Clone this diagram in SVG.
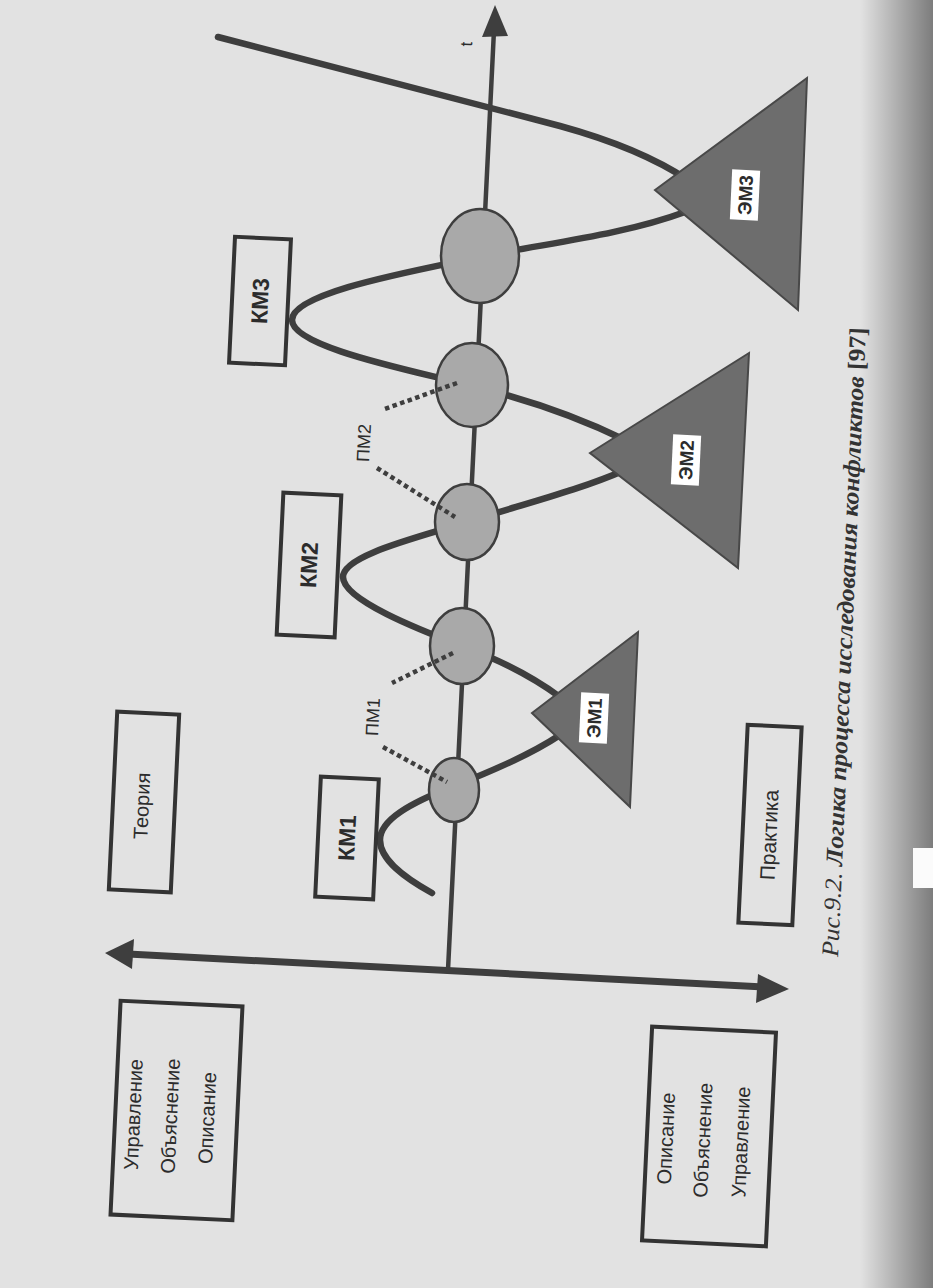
<svg xmlns="http://www.w3.org/2000/svg" width="933" height="1288" viewBox="0 0 933 1288">
<defs>
<linearGradient id="edge" x1="0" y1="0" x2="1" y2="0">
<stop offset="0" stop-color="#000" stop-opacity="0"/>
<stop offset="1" stop-color="#000" stop-opacity="0.45"/>
</linearGradient>
<style>
.ln{stroke:#3e3e3e;fill:none;stroke-linecap:round;stroke-linejoin:round}
.wave{stroke-width:6.5}
.ax{stroke-width:4.5}
.hax{stroke-width:7}
.dot{stroke:#3e3e3e;stroke-width:4.5;fill:none;stroke-dasharray:4.5 3.5}
.head{fill:#3e3e3e}
.circ{fill:#a9a9a9;stroke:#3e3e3e;stroke-width:2.5}
.tri{fill:#6d6d6d;stroke:#484848;stroke-width:2}
.box{fill:none;stroke:#333;stroke-width:4}
.lbl{fill:#fff}
.t{font-family:"Liberation Sans",Arial,sans-serif;fill:#2c2c2c;text-anchor:middle}
.b{font-weight:bold}
.cap{font-family:"Liberation Serif","Times New Roman",serif;font-style:italic;font-weight:bold;fill:#333;font-size:24px}
</style>
</defs>
<rect width="933" height="1288" fill="#e2e2e2"/>
<rect x="860" y="0" width="73" height="1288" fill="url(#edge)"/>
<rect x="913" y="848" width="20" height="40" fill="#fbfbfb"/>

<g id="connectors">
<path class="ln ax" d="M448,970 L494,30"/>
<polygon class="head" points="495,5 508,36 482,37"/>
<path class="ln wave" d="M218,37 L560,126 Q640,148 688,180 Q714,196 685,212 C620,236 540,244 480,257 C420,270 292,292 292,320 C292,348 420,372 472,386 C530,400 580,418 625,440 Q652,455 625,470 C580,490 520,505 467,522 C420,537 343,555 343,577 C343,600 420,630 462,646 C500,660 530,675 560,697 Q582,715 560,735 C530,755 490,772 454,786 C410,803 380,820 380,840 C380,860 405,878 432,893"/>
<path class="ln hax" d="M128,954 L764,987"/>
<polygon class="head" points="105,953 134,939 132,969"/>
<polygon class="head" points="789,989 758,974 756,1003"/>
</g>

<g id="circle5"><ellipse class="circ" cx="480" cy="256" rx="39" ry="47"/></g>
<g id="circle4"><ellipse class="circ" cx="472" cy="385" rx="36" ry="42"/></g>
<g id="circle3"><ellipse class="circ" cx="467" cy="522" rx="32" ry="38"/></g>
<g id="circle2"><ellipse class="circ" cx="462" cy="646" rx="32" ry="38"/></g>
<g id="circle1"><ellipse class="circ" cx="454" cy="790" rx="25" ry="32"/></g>

<g id="pm-connectors">
<path class="dot" d="M457,383 L382,410"/>
<path class="dot" d="M377,468 L455,517"/>
<path class="dot" d="M453,653 L392,683"/>
<path class="dot" d="M383,747 L447,782"/>
</g>

<g id="pm2"><text class="t" font-size="18" transform="translate(364,443) rotate(-87.3)" y="6">ПМ2</text></g>
<g id="pm1"><text class="t" font-size="18" transform="translate(373,717) rotate(-87.3)" y="6">ПМ1</text></g>

<g id="em3">
<polygon class="tri" points="655,190 807,78 798,310"/>
<g transform="translate(745,195) rotate(-87.3)"><rect class="lbl" x="-25" y="-14" width="50" height="28"/><text class="t b" font-size="19" y="7">ЭМ3</text></g>
</g>
<g id="em2">
<polygon class="tri" points="590,453 749,353 738,568"/>
<g transform="translate(686,460) rotate(-87.3)"><rect class="lbl" x="-25" y="-14" width="50" height="28"/><text class="t b" font-size="19" y="7">ЭМ2</text></g>
</g>
<g id="em1">
<polygon class="tri" points="532,713 638,632 630,807"/>
<g transform="translate(594,718) rotate(-87.3)"><rect class="lbl" x="-25" y="-14" width="50" height="28"/><text class="t b" font-size="19" y="7">ЭМ1</text></g>
</g>

<g id="km3" transform="translate(260,301) rotate(2.7)">
<rect class="box" x="-28" y="-63" width="56" height="126"/>
<text class="t b" font-size="23" transform="rotate(-90)" y="8">КМ3</text>
</g>
<g id="km2" transform="translate(309,565) rotate(2.7)">
<rect class="box" x="-29" y="-71" width="58" height="142"/>
<text class="t b" font-size="23" transform="rotate(-90)" y="8">КМ2</text>
</g>
<g id="km1" transform="translate(347,838) rotate(2.7)">
<rect class="box" x="-29" y="-60" width="58" height="120"/>
<text class="t b" font-size="23" transform="rotate(-90)" y="8">КМ1</text>
</g>
<g id="theory" transform="translate(144,802) rotate(2.7)">
<rect class="box" x="-31" y="-89" width="62" height="178"/>
<text class="t" font-size="20" transform="rotate(-90)" x="-4" y="5">Теория</text>
</g>
<g id="practice" transform="translate(770,825) rotate(2.7)">
<rect class="box" x="-27" y="-99" width="54" height="198"/>
<text class="t" font-size="21" transform="rotate(-90)" x="-10" y="7">Практика</text>
</g>
<g id="left-box" transform="translate(176.5,1110.5) rotate(2.7)">
<rect class="box" x="-61" y="-107" width="122" height="214" stroke-width="3.5"/>
<g transform="rotate(-90)">
<text class="t" font-size="20" x="-6" y="-36">Управление</text>
<text class="t" font-size="20" x="-6" y="1">Объяснение</text>
<text class="t" font-size="20" x="-6" y="38">Описание</text>
</g>
</g>
<g id="right-box" transform="translate(709,1136.5) rotate(2.7)">
<rect class="box" x="-62" y="-107" width="124" height="214" stroke-width="3.5"/>
<g transform="rotate(-90)">
<text class="t" font-size="20" x="-4" y="-36">Описание</text>
<text class="t" font-size="20" x="-4" y="1">Объяснение</text>
<text class="t" font-size="20" x="-4" y="39">Управление</text>
</g>
</g>

<g id="t-label"><text class="t" font-size="17" transform="translate(466,44) rotate(-87.3)" y="6">t</text></g>

<g id="caption"><text class="cap" transform="translate(838,957) rotate(-87.45)" textLength="630" lengthAdjust="spacingAndGlyphs"><tspan font-weight="normal">Рис.9.2. </tspan><tspan>Логика процесса исследования конфликтов </tspan><tspan font-style="normal">[97]</tspan></text></g>
</svg>
